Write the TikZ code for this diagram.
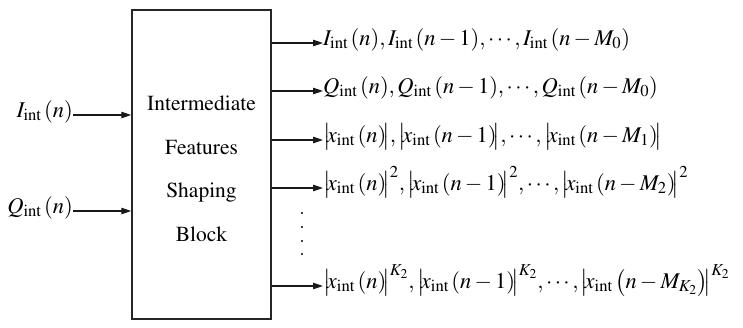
\documentclass[tikz,border=0pt]{standalone}
\usepackage[T1]{fontenc}
\usepackage{mathptmx}
\usetikzlibrary{arrows.meta,positioning}

\newcommand{\sI}{I_{\mathrm{int}}}
\newcommand{\sQ}{Q_{\mathrm{int}}}
\newcommand{\sx}{x_{\mathrm{int}}}
\newcommand{\pa}[1]{\,(#1)}
\newcommand{\ab}[1]{\bigl|\mkern-3mu#1\mkern-3mu\bigr|}

\begin{document}
\begin{tikzpicture}[
  x=1pt,y=-1pt,
  >={Triangle[length=10pt,width=6.5pt]},
  block/.style={draw=black!85,line width=1.5pt,minimum width=139pt,minimum height=309pt,inner sep=0pt},
  sig/.style={->,line width=1.1pt,black!90},
  lab/.style={inner sep=0pt,font=\fontsize{22.5}{26}\selectfont},
  blktext/.style={align=center,font=\fontsize{21.5}{43.5}\selectfont}]

  \useasboundingbox (0,0) rectangle (743,328);

  % ---- block ----
  \node[block] (blk) at (201.5,164.5) {};
  \node[blktext] (blklab) at (201.5,169) {Intermediate\\Features\\Shaping\\Block};

  % ---- inputs ----
  \node[lab,anchor=mid east] (inI) at (73,115) {$\sI\pa{n}$};
  \node[lab,anchor=mid east] (inQ) at (73,211) {$\sQ\pa{n}$};
  \draw[sig] (inI.mid east) -- (inI.mid east -| blk.west);
  \draw[sig] (inQ.mid east) -- (inQ.mid east -| blk.west);

  % ---- outputs ----
  \node[lab,anchor=mid west] (outI) at (323,43)
    {$\sI\pa{n},\sI\pa{n-1},\cdots,\sI\pa{n-M_0}$};
  \node[lab,anchor=mid west] (outQ) at (323,91)
    {$\sQ\pa{n},\sQ\pa{n-1},\cdots,\sQ\pa{n-M_0}$};
  \node[lab,anchor=mid west] (outAbs) at (323,140)
    {$\ab{\sx\pa{n}},\ab{\sx\pa{n-1}},\cdots,\ab{\sx\pa{n-M_1}}$};
  \node[lab,anchor=mid west] (outSq) at (323,188)
    {$\ab{\sx\pa{n}}^2,\ab{\sx\pa{n-1}}^2,\cdots,\ab{\sx\pa{n-M_2}}^2$};
  \node[lab,anchor=mid west] (outK) at (323,286)
    {$\ab{\sx\pa{n}}^{K_2},\ab{\sx\pa{n-1}}^{K_2},\cdots,\ab{\sx\,\bigl(n-M_{K_2}\bigr)}^{K_2}$};

  \foreach \o in {outI,outQ,outAbs,outSq,outK}
    \draw[sig] (blk.east |- \o.mid west) -- (\o.mid west);

  % vertical dots
  \foreach \y in {213,227,241,254}
    \fill (302,\y) circle (1.1pt);
\end{tikzpicture}
\end{document}
